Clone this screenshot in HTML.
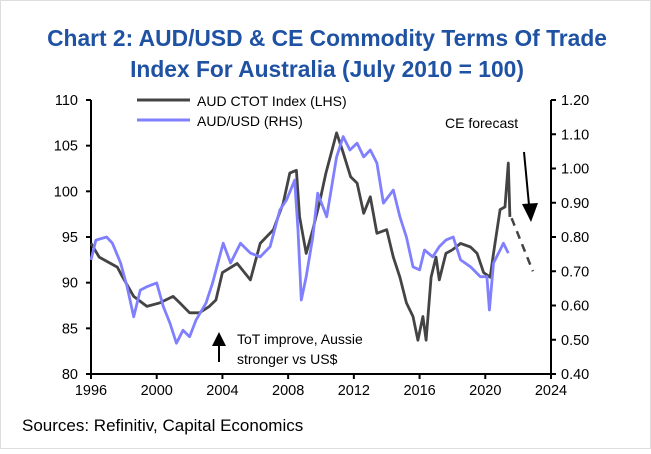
<!DOCTYPE html>
<html><head><meta charset="utf-8"><style>
body{margin:0;background:#fff;}
svg text{font-family:"Liberation Sans",sans-serif;}
</style></head><body>
<svg width="651" height="449" viewBox="0 0 651 449" xmlns="http://www.w3.org/2000/svg">
<rect x="0.5" y="0.5" width="650" height="448" fill="#fff" stroke="#ddd"/>
<text x="327" y="46" text-anchor="middle" font-size="22.8" font-weight="bold" fill="#1f52a3">Chart 2: AUD/USD &amp; CE Commodity Terms Of Trade</text>
<text x="327" y="77" text-anchor="middle" font-size="22.8" font-weight="bold" fill="#1f52a3">Index For Australia (July 2010 = 100)</text>
<g id="axes"></g>
<g id="series"></g>
<line x1="137" y1="100" x2="190" y2="100" stroke="#444" stroke-width="3"/>
<text x="197" y="106" font-size="14" fill="#000">AUD CTOT Index (LHS)</text>
<line x1="137" y1="120" x2="190" y2="120" stroke="#8080ff" stroke-width="3"/>
<text x="197" y="126" font-size="14" fill="#000">AUD/USD (RHS)</text>
<text x="445" y="128" font-size="14" fill="#000">CE forecast</text>
<line x1="524" y1="152" x2="529" y2="205" stroke="#000" stroke-width="2"/>
<polygon points="522,204 538,203 531,222" fill="#000"/>
<line x1="219" y1="362" x2="219" y2="345" stroke="#000" stroke-width="2"/>
<polygon points="212,346 226,346 219,332" fill="#000"/>
<text x="237" y="344" font-size="14" fill="#000">ToT improve, Aussie</text>
<text x="237" y="364" font-size="14" fill="#000">stronger vs US$</text>
<text x="22" y="431" font-size="17" fill="#000">Sources: Refinitiv, Capital Economics</text>
</svg>
<script>
const ctotYears=[1996.0,1996.5,1997.2,1997.6,1997.9,1998.6,1999.4,2000.2,2001.0,2001.4,2002.0,2002.6,2003.2,2003.6,2004.0,2004.9,2005.7,2006.3,2007.1,2007.7,2008.1,2008.5,2008.7,2009.1,2009.5,2009.9,2010.3,2010.95,2011.3,2011.8,2012.2,2012.6,2013.0,2013.4,2014.0,2014.4,2014.8,2015.2,2015.6,2015.9,2016.2,2016.4,2016.7,2017.0,2017.2,2017.6,2018.0,2018.5,2019.1,2019.5,2019.9,2020.3,2020.5,2020.9,2021.2,2021.4,2021.5];
const ctotValues=[94.3,92.8,92.1,91.7,90.7,88.5,87.4,87.8,88.5,87.8,86.7,86.7,87.4,88.1,91.1,92.1,90.3,94.3,95.8,98.7,102,102.3,97.2,93.2,95.8,98.7,102,106.4,104.5,101.6,100.9,97.6,99.4,95.4,95.8,92.8,90.6,87.8,86.3,83.7,86.3,83.7,90.6,92.8,90.3,93.2,93.6,94.3,93.9,93.2,91.1,90.6,93.2,98,98.3,103.1,97.2];
const audYears=[1996.0,1996.3,1996.95,1997.3,1997.8,1998.2,1998.6,1999.0,1999.4,2000.0,2000.4,2000.8,2001.2,2001.6,2002.0,2002.4,2003.0,2003.4,2004.05,2004.5,2005.1,2005.7,2006.3,2006.9,2007.5,2007.9,2008.4,2008.6,2008.8,2009.1,2009.5,2009.8,2010.35,2010.95,2011.35,2011.76,2012.2,2012.6,2013.0,2013.4,2013.8,2014.4,2014.8,2015.2,2015.6,2016.0,2016.3,2016.8,2017.2,2017.6,2018.05,2018.5,2019.1,2019.7,2020.1,2020.25,2020.5,2020.9,2021.1,2021.4];
const audValues=[0.733,0.791,0.80,0.782,0.724,0.655,0.567,0.645,0.655,0.666,0.597,0.549,0.49,0.528,0.509,0.558,0.607,0.666,0.782,0.724,0.782,0.753,0.742,0.772,0.879,0.908,0.966,0.82,0.616,0.684,0.80,0.928,0.859,1.034,1.093,1.054,1.074,1.034,1.054,1.016,0.899,0.937,0.859,0.80,0.713,0.704,0.762,0.742,0.772,0.791,0.80,0.733,0.713,0.684,0.684,0.587,0.724,0.762,0.782,0.753];
const forecastYears=[2021.6,2022.9];
const forecastValues=[0.855,0.70];
const leftTicks=[80,85,90,95,100,105,110];
const rightTicks=["0.40","0.50","0.60","0.70","0.80","0.90","1.00","1.10","1.20"];
const xTicks=[1996,2000,2004,2008,2012,2016,2020,2024];

const NS="http://www.w3.org/2000/svg";
const X0=91,X1=551,YB=374,YT=100;
const xs=y=>X0+(y-1996)/(2024-1996)*(X1-X0);
const yl=v=>YB-(v-80)/30*(YB-YT);
const yr=v=>YB-(v-0.4)/0.8*(YB-YT);
function mk(t,a,p){const e=document.createElementNS(NS,t);for(const k in a)e.setAttribute(k,a[k]);p.appendChild(e);return e;}
const ax=document.getElementById('axes'),sr=document.getElementById('series');
let e=mk('line',{x1:X0,y1:YT,x2:X0,y2:YB,stroke:'#000','stroke-width':2},ax);


e=mk('line',{x1:X1,y1:YT,x2:X1,y2:YB,stroke:'#000','stroke-width':2},ax);


e=mk('line',{x1:X0,y1:YB,x2:X1,y2:YB,stroke:'#000','stroke-width':2},ax);


leftTicks.forEach(v=>{const y=yl(v);
 mk('line',{x1:X0-5,y1:y,x2:X0,y2:y,stroke:'#000','stroke-width':2},ax);
 const t=mk('text',{x:X0-13,y:y+5,'text-anchor':'end','font-size':14.5},ax);t.textContent=v;
 
 });
rightTicks.forEach(s=>{const y=yr(parseFloat(s));
 mk('line',{x1:X1,y1:y,x2:X1+5,y2:y,stroke:'#000','stroke-width':2},ax);
 const t=mk('text',{x:X1+10,y:y+5,'font-size':14.5},ax);t.textContent=s;
 
 });
xTicks.forEach(v=>{const x=xs(v);
 mk('line',{x1:x,y1:YB,x2:x,y2:YB+5,stroke:'#000','stroke-width':2},ax);
 const t=mk('text',{x:x,y:YB+21,'text-anchor':'middle','font-size':14.5},ax);t.textContent=v;
 
 });
function path(xa,va,f){return xa.map((x,i)=>(i?'L':'M')+xs(x).toFixed(1)+','+f(va[i]).toFixed(1)).join('');}
e=mk('path',{d:path(ctotYears,ctotValues,yl),fill:'none',stroke:'#444','stroke-width':2.8,'stroke-linejoin':'round'},sr);


e=mk('path',{d:path(audYears,audValues,yr),fill:'none',stroke:'#8080ff','stroke-width':2.8,'stroke-linejoin':'round'},sr);


e=mk('path',{d:path(forecastYears,forecastValues,yr),fill:'none',stroke:'#444','stroke-width':2.5,'stroke-dasharray':'8,6'},sr);


</script>
</body></html>
